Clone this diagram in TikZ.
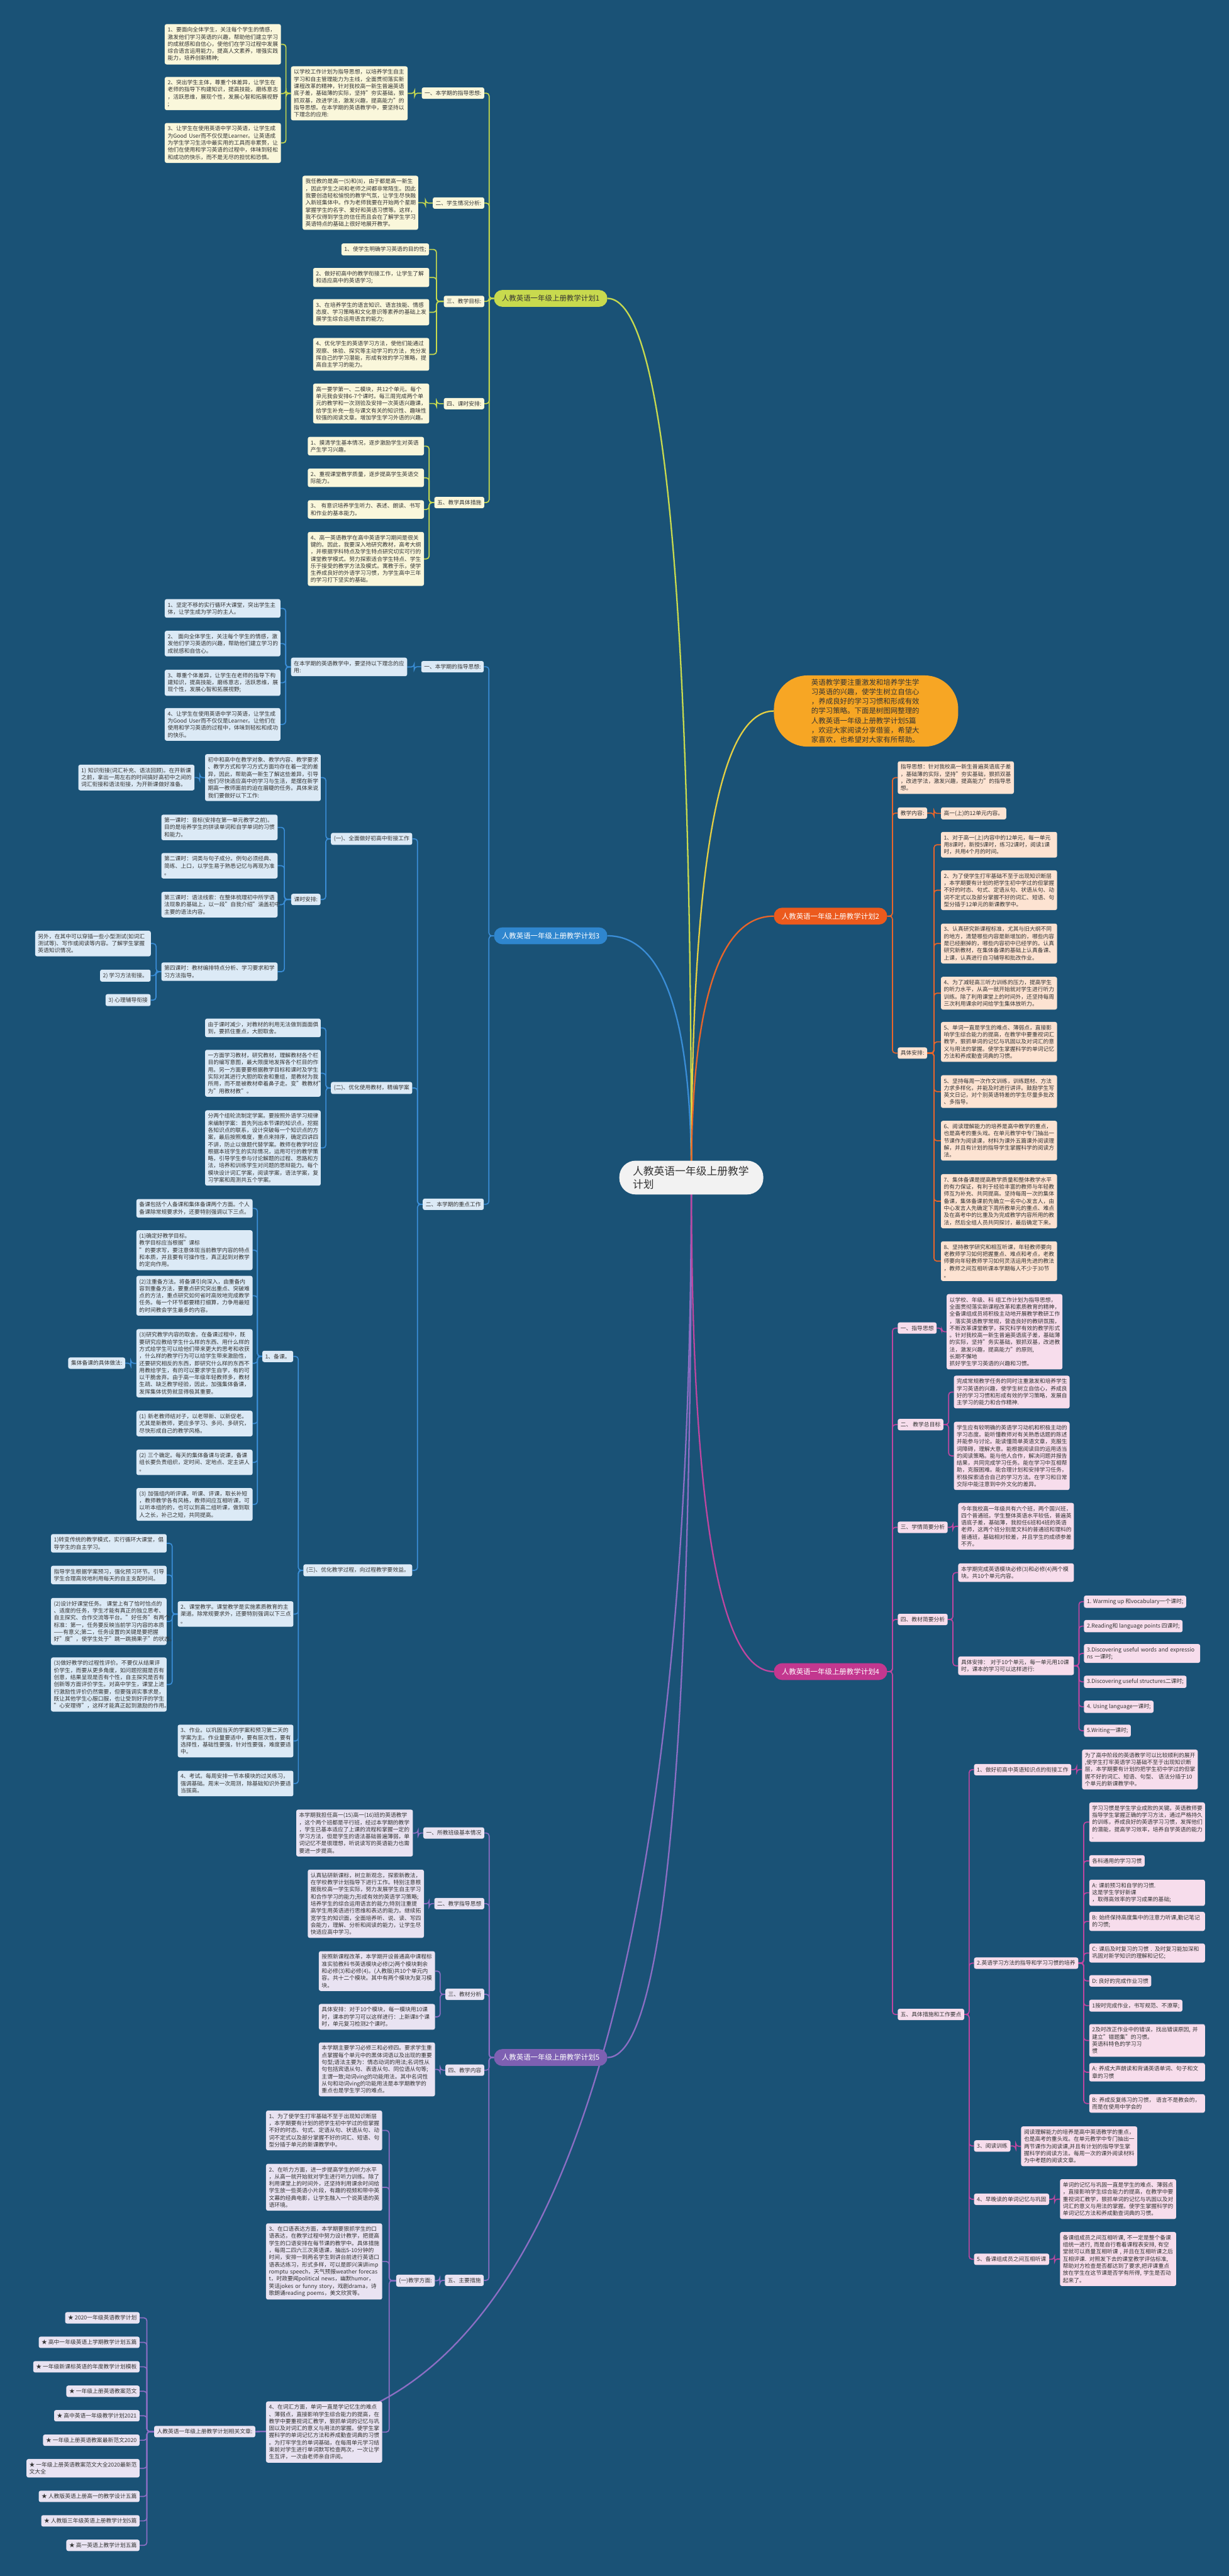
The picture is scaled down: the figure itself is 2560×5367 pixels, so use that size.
\documentclass[tikz,border=0pt]{standalone}
\usepackage{fontspec}
\setmainfont{Noto Sans CJK SC}
\usetikzlibrary{calc}

\definecolor{bgc}{HTML}{1A5276}
\definecolor{txt}{HTML}{333333}
\definecolor{yln}{HTML}{C8DA4E}
\definecolor{ylf}{HTML}{FAF7DB}
\definecolor{sumf}{HTML}{F7A624}
\definecolor{sumln}{HTML}{E4CF43}
\definecolor{oln}{HTML}{E9652A}
\definecolor{onode}{HTML}{EC5A1D}
\definecolor{olf}{HTML}{FDE3D2}
\definecolor{bln}{HTML}{3A8DD6}
\definecolor{bnode}{HTML}{2F86CE}
\definecolor{blf}{HTML}{DCEAF6}
\definecolor{mln}{HTML}{BF46A0}
\definecolor{mnode}{HTML}{C3378F}
\definecolor{mlf}{HTML}{F7DDEC}
\definecolor{pln}{HTML}{8C6EC4}
\definecolor{pnode}{HTML}{7E60B2}
\definecolor{plf}{HTML}{E9E3F2}
\definecolor{rootf}{HTML}{F2F2F2}

\newcommand\ftxt{\fontsize{11.5}{14.8}\selectfont}
\newcommand\fmain{\fontsize{15}{18}\selectfont}
\newcommand\fsum{\fontsize{15}{20}\selectfont}
\newcommand\froot{\fontsize{22}{28}\selectfont}
\newcommand\lnkL[3]{\draw[#1] let \p1=(#2.west),\p2=(#3.east) in (\p1) -- ({(\x1+\x2)/2},\y1) |- (\p2);}
\newcommand\lnkR[3]{\draw[#1] let \p1=(#2.east),\p2=(#3.west) in (\p1) -- ({(\x1+\x2)/2},\y1) |- (\p2);}
\newcommand\trunk[2]{\draw[#1,line width=3pt] (root.center) .. controls ($(root.center)!.667!(root.center|-#2)$) and ($(#2)!.667!(root.center|-#2)$) .. (#2);}

\pgfdeclarelayer{back}
\pgfdeclarelayer{lines}
\pgfsetlayers{back,lines,main}

\tikzset{
  cell/.style={rounded corners=4pt,inner xsep=6pt,inner ysep=6.5pt,align=left,font=\ftxt,text=txt},
  yleaf/.style={cell,fill=ylf},
  oleaf/.style={cell,fill=olf},
  bleaf/.style={cell,fill=blf},
  mleaf/.style={cell,fill=mlf},
  pleaf/.style={cell,fill=plf},
  atne/.style={anchor=north east},
  atnw/.style={anchor=north west},
  plan/.style={rounded corners=17pt,inner xsep=16pt,inner ysep=0pt,minimum height=35pt,minimum width=236pt,font=\fmain,text=white,anchor=north west},
  rootnode/.style={fill=rootf,rounded corners=34pt,text width=244pt,inner xsep=28pt,inner ysep=11pt,align=left,font=\froot,text=txt,anchor=north west},
  sumnode/.style={fill=sumf,rounded corners=70pt,text width=228pt,inner xsep=78pt,inner ysep=7pt,align=left,font=\fsum,text=txt,anchor=north west},
  yedge/.style={yln,line width=2.2pt,rounded corners=6pt},
  oedge/.style={oln,line width=2.2pt,rounded corners=6pt},
  bedge/.style={bln,line width=2.2pt,rounded corners=6pt},
  medge/.style={mln,line width=2.2pt,rounded corners=6pt},
  pedge/.style={pln,line width=2.2pt,rounded corners=6pt}
}

\begin{document}
\begin{tikzpicture}[x=1pt,y=-1pt]
  \begin{pgfonlayer}{back}
    \fill[bgc] (0,0) rectangle (2560,5367);
  \end{pgfonlayer}
  \useasboundingbox (0,0) rectangle (2560,5367);

  \node[rootnode] (root) at (1290,2418) {人教英语一年级上册教学\\计划};

  % plan 1
  \node[plan,fill=yln,text=txt] (planA) at (1029,604) {人教英语一年级上册教学计划1};
  \node[yleaf,atne] (a1) at (1009,182) {一、本学期的指导思想:};
  \node[yleaf,atnw,text width=231pt] (a1t) at (606,138) {以学校工作计划为指导思想，以培养学生自主\\学习和自主管理能力为主线，全面贯彻落实新\\课程改革的精神，针对我校高一新生普遍英语\\底子差，基础薄的实际，坚持"夯实基础，狠\\抓双基，改进学法，激发兴趣，提高能力"的\\指导思想。在本学期的英语教学中，要坚持以\\下理念的应用:};
  \node[yleaf,atnw,text width=230pt] (a1x1) at (343,50) {1、要面向全体学生，关注每个学生的情感，\\激发他们学习英语的兴趣，帮助他们建立学习\\的成就感和自信心，使他们在学习过程中发展\\综合语言运用能力，提高人文素养，增强实践\\能力，培养创新精神;};
  \node[yleaf,atnw,text width=230pt] (a1x2) at (343,160) {2、突出学生主体，尊重个体差异，让学生在\\老师的指导下构建知识，提高技能，磨练意志\\，活跃思维，展现个性，发展心智和拓展视野\\;};
  \node[yleaf,atnw,text width=230pt] (a1x3) at (343,256) {3、让学生在使用英语中学习英语，让学生成\\\mbox{为Good User而不仅仅是Learner。让英语成}\\为学生学习生活中最实用的工具而非累赘，让\\他们在使用和学习英语的过程中，体味到轻松\\和成功的快乐，而不是无尽的担忧和恐惧。};
  \node[yleaf,atne] (a2) at (1009,411) {二、学生情况分析:};
  \node[yleaf,atnw,text width=229pt] (a2t) at (630,366) {我任教的是高一(5)和(8)，由于都是高一新生\\，因此学生之间和老师之间都非常陌生。因此\\我要创造轻松愉悦的教学气氛，让学生尽快融\\入新班集体中。作为老师我要在开始两个星期\\掌握学生的名字、爱好和英语习惯等。这样，\\我不仅得到学生的信任而且会在了解学生学习\\英语特点的基础上很好地展开教学。};
  \node[yleaf,atne] (a3) at (1009,616) {三、教学目标:};
  \node[yleaf,atne] (a3x1) at (894,507) {1、使学生明确学习英语的目的性;};
  \node[yleaf,atnw,text width=230pt] (a3x2) at (652,558) {2、做好初高中的教学衔接工作，让学生了解\\和适应高中的英语学习;};
  \node[yleaf,atnw,text width=230pt] (a3x3) at (652,623) {3、在培养学生的语言知识、语言技能、情感\\态度、学习策略和文化意识等素养的基础上发\\展学生综合运用语言的能力;};
  \node[yleaf,atnw,text width=230pt] (a3x4) at (652,704) {4、优化学生的英语学习方法，使他们能通过\\观察、体验、探究等主动学习的方法，充分发\\挥自己的学习潜能，形成有效的学习策略，提\\高自主学习的能力。};
  \node[yleaf,atne] (a4) at (1009,829) {四、课时安排:};
  \node[yleaf,atnw,text width=230pt] (a4t) at (652,799) {高一要学第一、二模块，共12个单元。每个\\单元我会安排6-7个课时。每三周完成两个单\\元的教学和一次测验及安排一次英语兴趣课，\\给学生补充一些与课文有关的知识性、趣味性\\较强的阅读文章。增加学生学习外语的兴趣。};
  \node[yleaf,atne] (a5) at (1009,1035) {五、教学具体措施};
  \node[yleaf,atnw,text width=230pt] (a5x1) at (641,910) {1、摸清学生基本情况，逐步激励学生对英语\\产生学习兴趣。};
  \node[yleaf,atnw,text width=230pt] (a5x2) at (641,976) {2、重视课堂教学质量，逐步提高学生英语交\\际能力。};
  \node[yleaf,atnw,text width=230pt] (a5x3) at (641,1042) {3、 有意识培养学生听力、表述、朗读、书写\\和作业的基本能力。};
  \node[yleaf,atnw,text width=230pt] (a5x4) at (641,1108) {4、高一英语教学在高中英语学习期间是很关\\键的。因此，我要深入地研究教材，高考大纲\\，并根据学科特点及学生特点研究切实可行的\\课堂教学模式。努力探索适合学生特点、学生\\乐于接受的教学方法及模式。寓教于乐，使学\\生养成良好的外语学习习惯，为学生高中三年\\的学习打下坚实的基础。};

  % plan 3
  \node[plan,fill=bnode] (planC) at (1029,1932) {人教英语一年级上册教学计划3};
  \node[bleaf,atne] (c1) at (1008,1377) {一、本学期的指导思想:};
  \node[bleaf,atnw,text width=230pt] (c1t) at (606,1370) {在本学期的英语教学中，要坚持以下理念的应\\用:};
  \node[bleaf,atnw,text width=229pt] (c1x1) at (343,1248) {1、坚定不移的实行循环大课堂，突出学生主\\体，让学生成为学习的主人。};
  \node[bleaf,atnw,text width=229pt] (c1x2) at (343,1314) {2、 面向全体学生，关注每个学生的情感，激\\发他们学习英语的兴趣，帮助他们建立学习的\\成就感和自信心。};
  \node[bleaf,atnw,text width=229pt] (c1x3) at (343,1395) {3、尊重个体差异，让学生在老师的指导下构\\建知识，提高技能，磨练意志，活跃思维，展\\现个性，发展心智和拓展视野;};
  \node[bleaf,atnw,text width=229pt] (c1x4) at (343,1475) {4、让学生在使用英语中学习英语，让学生成\\\mbox{为Good User而不仅仅是Learner。让他们在}\\使用和学习英语的过程中，体味到轻松和成功\\的快乐。};
  \node[bleaf,atne] (c2) at (1008,2497) {二、本学期的重点工作};
  \node[bleaf,atne] (c21) at (859,1735) {(一)、全面做好初高中衔接工作};
  \node[bleaf,atnw,text width=229pt] (c21t) at (427,1571) {初中和高中在教学对象、教学内容、教学要求\\、教学方式和学习方式方面均存在着一定的差\\异，因此，帮助高一新生了解这些差异，引导\\他们尽快适应高中的学习与生活，是摆在新学\\期高一教师面前的迫在眉睫的任务。具体来说\\我们要做好以下工作:};
  \node[bleaf,atnw,text width=230pt] (c21t1) at (163,1593) {1) 知识衔接(词汇补充、语法回顾)。在开新课\\之前，拿出一周左右的时间搞好高初中之间的\\词汇衔接和语法衔接，为开新课做好准备。};
  \node[bleaf,atne] (c21k) at (668,1862) {课时安排:};
  \node[bleaf,atnw,text width=230pt] (k1) at (336,1697) {第一课时：音标(安排在第一单元教学之前)。\\目的是培养学生的拼读单词和自学单词的习惯\\和能力。};
  \node[bleaf,atnw,text width=230pt] (k2) at (336,1777) {第二课时：词类与句子成分。例句必须经典、\\简练、上口，以学生易于熟悉记忆与再现为准\\。};
  \node[bleaf,atnw,text width=230pt] (k3) at (336,1858) {第三课时：语法线索：在整体梳理初中所学语\\法现象的基础上，以一段"自我介绍"涵盖初中\\主要的语法内容。};
  \node[bleaf,atnw,text width=230pt] (k4) at (336,2005) {第四课时：教材编排特点分析、学习要求和学\\习方法指导。};
  \node[bleaf,atnw,text width=229pt] (k4a) at (73,1939) {另外，在其中可以穿插一些小型测试(如词汇\\测试等)、写作或阅读等内容。了解学生掌握\\英语知识情况。};
  \node[bleaf,atne] (k4b) at (314,2020) {2) 学习方法衔接。};
  \node[bleaf,atne] (k4c) at (314,2071) {3) 心理辅导衔接};
  \node[bleaf,atne] (c22) at (859,2254) {(二)、优化使用教材，精编学案};
  \node[bleaf,atnw,text width=229pt] (c22a) at (427,2122) {由于课时减少，对教材的利用无法做到面面俱\\到，要抓住重点，大胆取舍。};
  \node[bleaf,atnw,text width=229pt] (c22b) at (427,2187) {一方面学习教材，研究教材，理解教材各个栏\\目的编写意图，最大限度地发挥各个栏目的作\\用。另一方面要要根据教学目标和课时及学生\\实际对其进行大胆的取舍和重组，是教材为我\\所用，而不是被教材牵着鼻子走。变"教教材"\\为"用教材教"。};
  \node[bleaf,atnw,text width=229pt] (c22c) at (427,2313) {分两个组轮流制定学案。要按照外语学习规律\\来编制学案：首先列出本节课的知识点，挖掘\\各知识点的联系，设计突破每一个知识点的方\\案，最后按照难度，重点来排序，确定四讲四\\不讲，防止以做题代替学案。教师在教学时应\\根据本班学生的实际情况，运用可行的教学策\\略，引导学生参与讨论解题的过程、思路和方\\法，培养和训练学生对问题的思辩能力。每个\\模块设计词汇学案，阅读学案，语法学案，复\\习学案和周测共五个学案。};
  \node[bleaf,atne] (c23) at (859,3259) {(三)、优化教学过程，向过程教学要效益。};
  \node[bleaf,atne] (c23a) at (611,2814) {1、备课。};
  \node[bleaf,atnw,text width=230pt] (p0) at (284,2498) {备课包括个人备课和集体备课两个方面。个人\\备课除常规要求外，还要特别强调以下三点。};
  \node[bleaf,atnw,text width=230pt] (p1) at (284,2563) {(1)确定好教学目标。 教学目标应当根据"课标\\"的要求写，要注意体现当前教学内容的特点\\和本质，并且要有可操作性，真正起到对教学\\的定向作用。};
  \node[bleaf,atnw,text width=230pt] (p2) at (284,2658) {(2)注重备方法。将备课引向深入，由重备内\\容到重备方法，要重点研究突出重点、突破难\\点的方法，重点研究如何省时高效地完成教学\\任务。每一个环节都要精打细算，力争用最短\\的时间教会学生最多的内容。};
  \node[bleaf,atnw,text width=230pt] (p3) at (284,2769) {(3)研究教学内容的取舍。在备课过程中，既\\要研究应教给学生什么样的东西、用什么样的\\方式给学生可以给他们带来更大的思考和收获\\，什么样的教学行为可以给学生带来激励性，\\还要研究相反的东西，即研究什么样的东西不\\用教给学生，有的可以要求学生自学，有的可\\以干脆舍弃。由于高一年级年轻教师多，教材\\生疏、缺乏教学经验，因此，加强集体备课，\\发挥集体优势就显得极其重要。};
  \node[bleaf,atne] (p3a) at (261,2828) {集体备课的具体做法:};
  \node[bleaf,atnw,text width=230pt] (p4) at (284,2939) {(1) 新老教师结对子，以老带新、以新促老。\\尤其是新教师，更应多学习、多问、多研究，\\尽快形成自己的教学风格。};
  \node[bleaf,atnw,text width=230pt] (p5) at (284,3020) {(2) 三个确定。每天的集体备课与说课，备课\\组长要负责组织，定时间、定地点、定主讲人\\。};
  \node[bleaf,atnw,text width=230pt] (p6) at (284,3100) {(3) 加强组内听评课。听课、评课，取长补短\\，教师教学各有风格，教师间应互相听课，可\\以听本组的的，也可以到高二组听课，做到取\\人之长，补己之短，共同提高。};
  \node[bleaf,atnw,text width=229pt] (c23b) at (370,3336) {2、课堂教学。课堂教学是实施素质教育的主\\渠道。除常规要求外，还要特别强调以下三点\\。};
  \node[bleaf,atnw,text width=229pt] (q1) at (106,3196) {1)转变传统的教学模式，实行循环大课堂，倡\\导学生的自主学习。};
  \node[bleaf,atnw,text width=229pt] (q2) at (106,3262) {指导学生根据学案预习，强化预习环节。引导\\学生合理高效地利用每天的自主支配时间。};
  \node[bleaf,atnw,text width=229pt] (q3) at (106,3329) {(2)设计好课堂任务。 课堂上有了恰时恰点的\\、适度的任务，学生才能有真正的独立思考、\\自主探究、合作交流等平台。"好任务"有两个\\标准：第一，任务要反映当前学习内容的本质\\——有意义;第二，任务设置的关键是要把握\\好"度"，使学生处于"跳一跳摘果子"的状态。};
  \node[bleaf,atnw,text width=229pt] (q4) at (106,3453) {(3)做好教学的过程性评价。不要仅从结果评\\价学生，而要从更多角度，如问题挖掘是否有\\创意，结果呈现是否有个性，自主探究是否有\\创新等方面评价学生。对高中学生，课堂上进\\行激励性评价仍然需要，但要强调实事求是，\\既让其他学生心服口服，也让受到好评的学生\\"心安理得"，这样才能真正起到激励的作用。};
  \node[bleaf,atnw,text width=229pt] (c23c) at (370,3593) {3、作业。以巩固当天的学案和预习第二天的\\学案为主。作业量要适中，要有层次性，要有\\选择性，基础性要强，针对性要强，难度要适\\中。};
  \node[bleaf,atnw,text width=229pt] (c23d) at (370,3689) {4、考试。每周安排一节本模块的过关练习，\\强调基础。周末一次周测，除基础知识外要适\\当拔高。};

  % plan 5
  \node[plan,fill=pnode] (planE) at (1029,4269) {人教英语一年级上册教学计划5};
  \node[pleaf,atne] (e1) at (1009,3807) {一、所教班级基本情况};
  \node[pleaf,atnw,text width=231pt] (e1t) at (617,3770) {本学期我担任高一(15)高一(16)班的英语教学\\，这个两个班都是平行班，经过本学期的教学\\，学生已基本适应了上课的流程和掌握一定的\\学习方法，但是学生的语法基础普遍薄弱，单\\词记忆不是很理想，听说读写的英语能力也需\\要进一步提高。};
  \node[pleaf,atne] (e2) at (1009,3954) {二、教学指导思想};
  \node[pleaf,atnw,text width=230pt] (e2t) at (641,3895) {认真钻研新课标，树立新观念，探索新教法，\\在学校教学计划指导下进行工作。特别注意根\\据我校高一学生实际，努力发展学生自主学习\\和合作学习的能力;形成有效的英语学习策略;\\培养学生的综合运用语言的能力;特别注重提\\高学生用英语进行思维和表达的能力。继续拓\\宽学生的知识面，全面培养听、说、读、写四\\会能力，理解、分析和阅读的能力，让学生尽\\快适应高中学习。};
  \node[pleaf,atne] (e3) at (1009,4143) {三、教材分析};
  \node[pleaf,atnw,text width=230pt] (e3a) at (664,4065) {按照新课程改革，本学期开设普通高中课程标\\准实验教科书英语模块必修(2)两个模块剩余\\和必修(3)和必修(4)。(人教版)共10个单元内\\容。共十二个模块。其中有两个模块为复习模\\块。};
  \node[pleaf,atnw,text width=230pt] (e3b) at (664,4175) {具体安排：对于10个模块，每一模块用10课\\时，课本的学习可以这样进行：上新课8个课\\时，单元复习检测2个课时。};
  \node[pleaf,atne] (e4) at (1009,4301) {四、教学内容};
  \node[pleaf,atnw,text width=230pt] (e4t) at (664,4255) {本学期主要学习必修三和必修四。要求学生重\\点掌握每个单元中的黑体词语以及出现的重要\\句型;语法主要为：情态动词的用法;名词性从\\句包括宾语从句、表语从句、同位语从句等;\\主谓一致;动词ving的功能用法。其中名词性\\从句和动词ving的功能用法是本学期教学的\\重点也是学生学习的难点。};
  \node[pleaf,atne] (e5) at (1008,4739) {五、主要措施};
  \node[pleaf,atne] (e51) at (906,4739) {(一)教学方面:};
  \node[pleaf,atnw,text width=230pt] (e5x1) at (554,4397) {1、为了使学生打牢基础不至于出现知识断层\\，本学期要有计划的把学生初中学过的但掌握\\不好的时态、句式、定语从句、状语从句、动\\词不定式以及部分掌握不好的词汇、短语、句\\型分插于单元的新课教学中。};
  \node[pleaf,atnw,text width=230pt] (e5x2) at (554,4508) {2、在听力方面，进一步提高学生的听力水平\\，从高一就开始就对学生进行听力训练。除了\\利用课堂上的时间外，还坚持利用课余时间给\\学生放一些英语小片段，有趣的视频和带中英\\文幕的经典电影，让学生融入一个说英语的英\\语环境。};
  \node[pleaf,atnw,text width=230pt] (e5x3) at (554,4632) {3、在口语表达方面，本学期要狠抓学生的口\\语表达，在教学过程中努力设计教学，把提高\\学生的口语安排在每节课的教学中。具体措施\\，每周二四六三次英语课，抽出5-10分钟的\\时间，安排一到两名学生到讲台前进行英语口\\语表达练习，形式多样，可以是即兴演讲imp\\\mbox{romptu speech，天气预报weather forecas}\\\mbox{t，时政要闻political news，幽默humor，}\\\mbox{笑话jokes or funny story，戏剧drama，诗}\\\mbox{歌朗诵reading poems，美文欣赏等。}};
  \node[pleaf,atnw,text width=230pt] (e5x4) at (554,5003) {4、在词汇方面，单词一直是学记忆生的难点\\、薄弱点，直接影响学生综合能力的提高，在\\教学中要重视词汇教学，狠抓单词的记忆与巩\\固以及对词汇的意义与用法的掌握。使学生掌\\握科学的单词记忆方法和养成勤查词典的习惯\\。为打牢学生的单词基础，在每周单元学习结\\束前对学生进行单词默写检查两次，一次让学\\生互评，一次由老师亲自评阅。};
  \node[pleaf,atne] (rel) at (532,5054) {人教英语一年级上册教学计划相关文章:};
  \node[pleaf,atne] (r1) at (291,4817) {★ 2020一年级英语教学计划};
  \node[pleaf,atne] (r2) at (291,4868) {★ 高中一年级英语上学期教学计划五篇};
  \node[pleaf,atne] (r3) at (291,4919) {★ 一年级新课标英语的年度教学计划模板};
  \node[pleaf,atne] (r4) at (291,4970) {★ 一年级上册英语教案范文};
  \node[pleaf,atne] (r5) at (291,5021) {★ 高中英语一年级教学计划2021};
  \node[pleaf,atne] (r6) at (291,5072) {★ 一年级上册英语教案最新范文2020};
  \node[pleaf,atne] (r7) at (291,5123) {★ 一年级上册英语教案范文大全2020最新范\\文大全};
  \node[pleaf,atne] (r8) at (291,5189) {★ 人教版英语上册高一的教学设计五篇};
  \node[pleaf,atne] (r9) at (291,5240) {★ 人教版三年级英语上册教学计划5篇};
  \node[pleaf,atne] (r10) at (291,5291) {★ 高一英语上教学计划五篇};

  % summary and plan 2
  \node[sumnode] (sum) at (1612,1407) {英语教学要注重激发和培养学生学\\习英语的兴趣，使学生树立自信心\\，养成良好的学习习惯和形成有效\\的学习策略。下面是树图网整理的\\人教英语一年级上册教学计划5篇\\，欢迎大家阅读分享借鉴，希望大\\家喜欢，也希望对大家有所帮助。};
  \node[plan,fill=onode] (planB) at (1612,1891) {人教英语一年级上册教学计划2};
  \node[oleaf,atnw,text width=230pt] (b1) at (1870,1586) {指导思想：针对我校高一新生普遍英语底子差\\，基础薄的实际，坚持"夯实基础，狠抓双基\\，改进学法，激发兴趣，提高能力"的指导思\\想。};
  \node[oleaf,atnw] (b2) at (1870,1682) {教学内容:};
  \node[oleaf,atnw] (b2t) at (1960,1682) {高一(上)的12单元内容。};
  \node[oleaf,atnw] (b3) at (1870,2182) {具体安排:};
  \node[oleaf,atnw,text width=230pt] (b3x1) at (1960,1733) {1、对于高一(上)内容中的12单元，每一单元\\用8课时，新授5课时，练习2课时，阅读1课\\时，共用4个月的时间。};
  \node[oleaf,atnw,text width=230pt] (b3x2) at (1960,1813) {2、为了使学生打牢基础不至于出现知识断层\\，本学期要有计划的把学生初中学过的但掌握\\不好的时态、句式、定语从句、状语从句、动\\词不定式以及部分掌握不好的词汇、短语、句\\型分插于12单元的新课教学中。};
  \node[oleaf,atnw,text width=230pt] (b3x3) at (1960,1924) {3、认真研究新课程标准，尤其与旧大纲不同\\的地方，清楚哪些内容是新增加的，哪些内容\\是已经删掉的，哪些内容初中已经学的。认真\\研究新教材，在集体备课的基础上认真备课、\\上课，认真进行自习辅导和批改作业。};
  \node[oleaf,atnw,text width=230pt] (b3x4) at (1960,2035) {4、为了减轻高三听力训练的压力，提高学生\\的听力水平，从高一就开始就对学生进行听力\\训练。除了利用课堂上的时间外，还坚持每周\\三次利用课余时间给学生集体放听力。};
  \node[oleaf,atnw,text width=230pt] (b3x5) at (1960,2129) {5、单词一直是学生的难点、薄弱点，直接影\\响学生综合能力的提高，在教学中要重视词汇\\教学，狠抓单词的记忆与巩固以及对词汇的意\\义与用法的掌握。使学生掌握科学的单词记忆\\方法和养成勤查词典的习惯。};
  \node[oleaf,atnw,text width=230pt] (b3x6) at (1960,2240) {5、坚持每周一次作文训练，训练题材、方法\\力求多样化，并能及时进行讲评。鼓励学生写\\英文日记，对个别英语特差的学生尽量多批改\\、多指导。};
  \node[oleaf,atnw,text width=230pt] (b3x7) at (1960,2335) {6、阅读理解能力的培养是高中教学的重点，\\也是高考的重头戏。在单元教学中专门抽出一\\节课作为阅读课，材料为课外五篇课外阅读理\\解，并且有计划的指导学生掌握科学的阅读方\\法。};
  \node[oleaf,atnw,text width=230pt] (b3x8) at (1960,2446) {7、集体备课是提高教学质量和整体教学水平\\的有力保证，有利于经验丰富的教师与年轻教\\师互为补充、共同提高。坚持每周一次的集体\\备课，集体备课前先确立一名中心发言人，由\\中心发言人先确定下周所教单元的重点、难点\\及在高考中的比重及为完成教学内容所用的教\\法，然后全组人员共同探讨，最后确定下来。};
  \node[oleaf,atnw,text width=230pt] (b3x9) at (1960,2586) {8、坚持教学研究和相互听课，年轻教师要向\\老教师学习如何把握重点、难点和考点，老教\\师要向年轻教师学习如何灵活运用先进的教法\\，教师之间互相听课本学期每人不少于30节\\。};

  % plan 4
  \node[plan,fill=mnode] (planD) at (1612,3465) {人教英语一年级上册教学计划4};
  \node[mleaf,atnw] (d1) at (1870,2755) {一、指导思想};
  \node[mleaf,atnw,text width=229pt] (d1t) at (1972,2696) {以学校、年级、科 组工作计划为指导思想，\\全面贯彻落实新课程改革和素质教育的精神，\\全备课组成员将积极主动地开展教学教研工作\\，落实英语教学常规，营造良好的教研氛围，\\不断改革课堂教学，探究科学有效的教学形式\\。针对我校高一新生普遍英语底子差，基础薄\\的实际，坚持"务实基础，狠抓双基，改进教\\法，激发兴趣，提高能力"的原则, 长期不懈地\\抓好学生学习英语的兴趣和习惯。};
  \node[mleaf,atnw] (d2) at (1870,2956) {二、 教学总目标};
  \node[mleaf,atnw,text width=229pt] (d2a) at (1987,2866) {完成常规教学任务的同时注重激发和培养学生\\学习英语的兴趣，使学生树立自信心，养成良\\好的学习习惯和形成有效的学习策略，发展自\\主学习的能力和合作精神.};
  \node[mleaf,atnw,text width=229pt] (d2b) at (1987,2962) {学生应有较明确的英语学习动机和积极主动的\\学习态度。能听懂教师对有关熟悉话题的陈述\\并能参与讨论。能读懂简单英语文章，克服生\\词障碍，理解大意。能根据阅读目的运用适当\\的阅读策略。能与他人合作，解决问题并报告\\结果，共同完成学习任务。能在学习中互相帮\\助，克服困难。能合理计划和安排学习任务，\\积极探索适合自己的学习方法。在学习和日常\\交际中能注意到中外文化的差异。};
  \node[mleaf,atnw] (d3) at (1870,3170) {三、学情简要分析};
  \node[mleaf,atnw,text width=229pt] (d3t) at (1996,3131) {今年我校高一年级共有六个班，两个国兴班，\\四个普通班。学生整体英语水平较低，普遍英\\语底子差，基础薄，我担任6班和4班的英语\\老师，这两个班分别是文科的普通班和理科的\\普通班，基础相对较差，并且学生的成绩参差\\不齐。};
  \node[mleaf,atnw] (d4) at (1870,3362) {四、教材简要分析};
  \node[mleaf,atnw,text width=229pt] (d4a) at (1996,3257) {本学期完成英语模块必修(3)和必修(4)两个模\\块。共10个单元内容。};
  \node[mleaf,atnw,text width=229pt] (d4b) at (1996,3451) {具体安排： 对于10个单元，每一单元用10课\\时，课本的学习可以这样进行:};
  \node[mleaf,atnw] (u1) at (2258,3324) {1. Warming up 和vocabulary一个课时;};
  \node[mleaf,atnw] (u2) at (2258,3375) {2.Reading和 language points 四课时;};
  \node[mleaf,atnw,text width=230pt] (u3) at (2258,3425) {\mbox{3.Discovering useful words and expressio}\\ns 一课时;};
  \node[mleaf,atnw] (u4) at (2258,3491) {3.Discovering useful structures二课时;};
  \node[mleaf,atnw] (u5) at (2258,3543) {4. Using language一课时;};
  \node[mleaf,atnw] (u6) at (2258,3593) {5.Writing一课时;};
  \node[mleaf,atnw] (d5) at (1870,4185) {五、具体措施和工作要点};
  \node[mleaf,atnw] (d51) at (2029,3675) {1、做好初高中英语知识点的衔接工作};
  \node[mleaf,atnw,text width=229pt] (d51t) at (2254,3645) {为了高中阶段的英语教学可以比较顺利的展开\\,使学生打牢英语学习基础不至于出现知识断\\层，本学期要有计划的把学生初中学过的但掌\\握不好的词汇、短语、句型、 语法分插于10\\个单元的新课教学中。};
  \node[mleaf,atnw] (d52) at (2029,4078) {2.英语学习方法的指导和学习习惯的培养};
  \node[mleaf,atnw,text width=229pt] (h1) at (2269,3755) {学习习惯是学生学业成败的关键。英语教师要\\指导学生掌握正确的学习方法，通过严格持久\\的训练，养成良好的英语学习习惯，发挥他们\\的潜能，提高学习效率，培养自学英语的能力\\.};
  \node[mleaf,atnw] (h2) at (2269,3865) {各科通用的学习习惯};
  \node[mleaf,atnw,text width=229pt] (h3) at (2269,3916) {A: 课前预习和自学的习惯. 这是学生学好新课\\，取得高效率的学习成果的基础;};
  \node[mleaf,atnw,text width=229pt] (h4) at (2269,3983) {B: 始终保持高度集中的注意力听课,勤记笔记\\的习惯;};
  \node[mleaf,atnw,text width=229pt] (h5) at (2269,4049) {C: 课后及时复习的习惯 . 及时复习能加深和\\巩固对新学知识的理解和记忆;};
  \node[mleaf,atnw] (h6) at (2269,4115) {D: 良好的完成作业习惯};
  \node[mleaf,atnw] (h7) at (2269,4166) {1按时完成作业，书写规范、不潦草;};
  \node[mleaf,atnw,text width=229pt] (h8) at (2269,4217) {2及时改正作业中的错误，找出错误原因, 并\\建立"错题集"的习惯。 英语科特色的学习习\\惯};
  \node[mleaf,atnw,text width=229pt] (h9) at (2269,4298) {A: 养成大声朗读和背诵英语单词、句子和文\\章的习惯};
  \node[mleaf,atnw,text width=229pt] (h10) at (2269,4363) {B: 养成反复练习的习惯， 语言不是教会的，\\而是在使用中学会的};
  \node[mleaf,atnw] (d53) at (2029,4459) {3、阅读训练};
  \node[mleaf,atnw,text width=230pt] (d53t) at (2127,4430) {阅读理解能力的培养是高中英语教学的重点，\\也是高考的重头戏。在单元教学中专门抽出一\\两节课作为阅读课,并且有计划的指导学生掌\\握科学的阅读方法。每周一次的课外阅读材料\\为中考题的阅读文章。};
  \node[mleaf,atnw] (d54) at (2029,4570) {4、早晚读的单词记忆与巩固};
  \node[mleaf,atnw,text width=230pt] (d54t) at (2208,4540) {单词的记忆与巩固一直是学生的难点、薄弱点\\，直接影响学生综合能力的提高，在教学中要\\重视词汇教学，狠抓单词的记忆与巩固以及对\\词汇的意义与用法的掌握。使学生掌握科学的\\单词记忆方法和养成勤查词典的习惯。};
  \node[mleaf,atnw] (d55) at (2029,4695) {5、备课组成员之间互相听课};
  \node[mleaf,atnw,text width=230pt] (d55t) at (2208,4650) {备课组成员之间互相听课, 不一定是整个备课\\组统一进行, 而是自行看着课程表安排, 有空\\堂就可以商量互相听课 , 并且在互相听课之后\\互相评课. 对照发下去的课堂教学评估标准,\\帮助对方检查是否都达到了要求,把评课重点\\放在学生在这节课是否学有所得, 学生是否动\\起来了。};

  \begin{pgfonlayer}{lines}
    \trunk{yln}{planA.east}
    \trunk{bln}{planC.east}
    \trunk{pln}{planE.east}
    \trunk{pln}{rel.east}
    \trunk{sumln}{sum.west}
    \trunk{oln}{planB.west}
    \trunk{mln}{planD.west}

    \foreach \v in {a1,a2,a3,a4,a5} {\lnkL{yedge}{planA}{\v}}
    \lnkL{yedge}{a1}{a1t}
    \foreach \v in {a1x1,a1x2,a1x3} {\lnkL{yedge}{a1t}{\v}}
    \lnkL{yedge}{a2}{a2t}
    \foreach \v in {a3x1,a3x2,a3x3,a3x4} {\lnkL{yedge}{a3}{\v}}
    \lnkL{yedge}{a4}{a4t}
    \foreach \v in {a5x1,a5x2,a5x3,a5x4} {\lnkL{yedge}{a5}{\v}}

    \foreach \v in {c1,c2} {\lnkL{bedge}{planC}{\v}}
    \lnkL{bedge}{c1}{c1t}
    \foreach \v in {c1x1,c1x2,c1x3,c1x4} {\lnkL{bedge}{c1t}{\v}}
    \foreach \v in {c21,c22,c23} {\lnkL{bedge}{c2}{\v}}
    \foreach \v in {c21t,c21k} {\lnkL{bedge}{c21}{\v}}
    \lnkL{bedge}{c21t}{c21t1}
    \foreach \v in {k1,k2,k3,k4} {\lnkL{bedge}{c21k}{\v}}
    \foreach \v in {k4a,k4b,k4c} {\lnkL{bedge}{k4}{\v}}
    \foreach \v in {c22a,c22b,c22c} {\lnkL{bedge}{c22}{\v}}
    \foreach \v in {c23a,c23b,c23c,c23d} {\lnkL{bedge}{c23}{\v}}
    \foreach \v in {p0,p1,p2,p3,p4,p5,p6} {\lnkL{bedge}{c23a}{\v}}
    \lnkL{bedge}{p3}{p3a}
    \foreach \v in {q1,q2,q3,q4} {\lnkL{bedge}{c23b}{\v}}

    \foreach \v in {e1,e2,e3,e4,e5} {\lnkL{pedge}{planE}{\v}}
    \lnkL{pedge}{e1}{e1t}
    \lnkL{pedge}{e2}{e2t}
    \foreach \v in {e3a,e3b} {\lnkL{pedge}{e3}{\v}}
    \lnkL{pedge}{e4}{e4t}
    \lnkL{pedge}{e5}{e51}
    \foreach \v in {e5x1,e5x2,e5x3,e5x4} {\lnkL{pedge}{e51}{\v}}
    \foreach \v in {r1,r2,r3,r4,r5,r6,r7,r8,r9,r10} {\lnkL{pedge}{rel}{\v}}

    \foreach \v in {b1,b2,b3} {\lnkR{oedge}{planB}{\v}}
    \lnkR{oedge}{b2}{b2t}
    \foreach \v in {b3x1,b3x2,b3x3,b3x4,b3x5,b3x6,b3x7,b3x8,b3x9} {\lnkR{oedge}{b3}{\v}}

    \foreach \v in {d1,d2,d3,d4,d5} {\lnkR{medge}{planD}{\v}}
    \lnkR{medge}{d1}{d1t}
    \foreach \v in {d2a,d2b} {\lnkR{medge}{d2}{\v}}
    \lnkR{medge}{d3}{d3t}
    \foreach \v in {d4a,d4b} {\lnkR{medge}{d4}{\v}}
    \foreach \v in {u1,u2,u3,u4,u5,u6} {\lnkR{medge}{d4b}{\v}}
    \foreach \v in {d51,d52,d53,d54,d55} {\lnkR{medge}{d5}{\v}}
    \lnkR{medge}{d51}{d51t}
    \foreach \v in {h1,h2,h3,h4,h5,h6,h7,h8,h9,h10} {\lnkR{medge}{d52}{\v}}
    \lnkR{medge}{d53}{d53t}
    \lnkR{medge}{d54}{d54t}
    \lnkR{medge}{d55}{d55t}
  \end{pgfonlayer}
\end{tikzpicture}
\end{document}
